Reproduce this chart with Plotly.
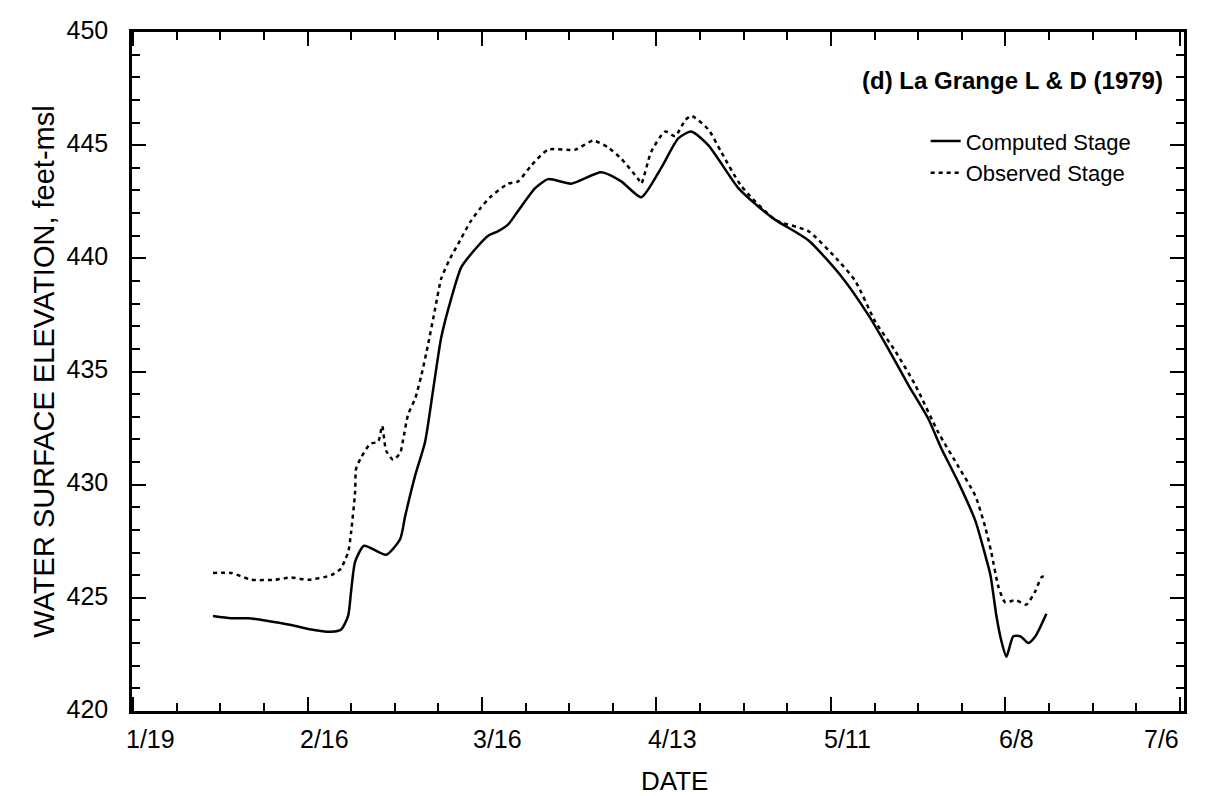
"""La Grange L & D (1979): computed vs observed water surface elevation."""

import plotly.graph_objects as go

# Computed stage (solid line)
computed_dates = [
    "1979-01-31 20:00", "1979-02-03 18:00", "1979-02-06 11:00", "1979-02-09 04:30",
    "1979-02-13 09:00", "1979-02-16 14:00", "1979-02-19 19:00", "1979-02-21 09:30",
    "1979-02-22 12:30", "1979-02-23 00:00", "1979-02-23 15:30", "1979-02-25 02:00",
    "1979-02-28 15:00", "1979-03-02 21:00", "1979-03-03 16:00", "1979-03-05 06:30",
    "1979-03-06 21:00", "1979-03-08 04:00", "1979-03-09 11:00", "1979-03-11 01:00",
    "1979-03-12 16:00", "1979-03-14 21:30", "1979-03-17 00:00", "1979-03-18 14:30",
    "1979-03-20 05:00", "1979-03-21 19:30", "1979-03-24 13:00", "1979-03-26 15:00",
    "1979-03-30 08:00", "1979-04-04 03:30", "1979-04-07 08:30", "1979-04-10 13:30",
    "1979-04-13 18:30", "1979-04-16 12:00", "1979-04-18 14:00", "1979-04-21 07:30",
    "1979-04-26 03:30", "1979-04-28 21:00", "1979-05-02 02:00", "1979-05-07 09:00",
    "1979-05-12 16:30", "1979-05-17 00:00", "1979-05-20 05:00", "1979-05-23 10:30",
    "1979-05-26 15:30", "1979-05-28 17:30", "1979-05-31 11:00", "1979-06-03 04:30",
    "1979-06-04 11:00", "1979-06-05 14:30", "1979-06-06 13:30", "1979-06-07 08:30",
    "1979-06-08 04:00", "1979-06-09 06:30", "1979-06-10 10:00", "1979-06-11 16:30",
    "1979-06-12 19:30", "1979-06-14 14:00",
]
computed_stage = [
    424.2, 424.1, 424.1, 424.0,
    423.8, 423.6, 423.5, 423.6,
    424.2, 425.3, 426.6, 427.3,
    426.9, 427.6, 428.6, 430.4,
    431.9, 434.2, 436.5, 438.2,
    439.6, 440.4, 441.0, 441.2,
    441.5, 442.1, 443.1, 443.5,
    443.3, 443.8, 443.4, 442.7,
    444.0, 445.3, 445.6, 445.0,
    443.1, 442.4, 441.7, 440.8,
    439.2, 437.5, 436.0, 434.4,
    432.9, 431.6, 430.1, 428.4,
    427.2, 426.0, 424.2, 423.1,
    422.4, 423.3, 423.3, 423.0,
    423.3, 424.3,
]

# Observed stage (dotted line)
observed_dates = [
    "1979-01-31 20:00", "1979-02-03 18:00", "1979-02-06 23:00", "1979-02-10 19:00",
    "1979-02-13 09:00", "1979-02-16 02:00", "1979-02-19 19:00", "1979-02-21 09:30",
    "1979-02-22 01:00", "1979-02-22 12:30", "1979-02-23 00:00", "1979-02-23 15:30",
    "1979-02-23 19:00", "1979-02-24 14:30", "1979-02-26 01:00", "1979-02-27 08:00",
    "1979-02-27 23:30", "1979-02-28 15:00", "1979-03-01 18:00", "1979-03-02 21:00",
    "1979-03-03 08:30", "1979-03-04 03:30", "1979-03-05 06:30", "1979-03-06 06:00",
    "1979-03-07 08:30", "1979-03-08 12:00", "1979-03-09 11:00", "1979-03-10 21:30",
    "1979-03-12 12:00", "1979-03-14 02:30", "1979-03-15 17:00", "1979-03-17 07:30",
    "1979-03-20 05:00", "1979-03-21 19:30", "1979-03-23 21:30", "1979-03-26 15:00",
    "1979-03-30 23:00", "1979-04-02 20:30", "1979-04-05 06:00", "1979-04-07 08:30",
    "1979-04-10 02:00", "1979-04-10 13:30", "1979-04-12 03:30", "1979-04-14 09:30",
    "1979-04-16 00:00", "1979-04-17 14:30", "1979-04-18 14:00", "1979-04-21 07:30",
    "1979-04-23 09:30", "1979-04-26 14:30", "1979-05-02 02:00", "1979-05-07 09:00",
    "1979-05-12 04:30", "1979-05-14 22:00", "1979-05-18 03:00", "1979-05-21 08:00",
    "1979-05-24 13:00", "1979-05-28 06:00", "1979-05-31 11:00", "1979-06-03 04:30",
    "1979-06-04 19:00", "1979-06-05 18:00", "1979-06-06 21:00", "1979-06-07 23:30",
    "1979-06-09 14:30", "1979-06-11 08:30", "1979-06-12 19:30", "1979-06-13 18:30",
    "1979-06-14 14:00",
]
observed_stage = [
    426.1, 426.1, 425.8, 425.8,
    425.9, 425.8, 426.0, 426.3,
    426.7, 427.0, 427.9, 429.7,
    430.7, 431.2, 431.8, 431.9,
    432.6, 431.5, 431.1, 431.4,
    432.0, 433.1, 433.8, 434.8,
    436.2, 437.8, 439.1, 440.0,
    440.8, 441.6, 442.2, 442.7,
    443.3, 443.4, 444.1, 444.8,
    444.8, 445.2, 444.9, 444.4,
    443.5, 443.3, 444.7, 445.6,
    445.4, 446.1, 446.3, 445.7,
    444.7, 443.2, 441.7, 441.2,
    439.9, 439.0, 437.2, 435.9,
    434.4, 432.3, 430.8, 429.5,
    428.1, 427.0, 425.5, 424.8,
    424.9, 424.7, 425.3, 425.9,
    426.0,
]

# x tick labels (every 28 days), drawn as text so each can sit where the original put it
tick_dates = ["1979-01-19", "1979-02-16", "1979-03-16", "1979-04-13",
              "1979-05-11", "1979-06-08", "1979-07-06"]
tick_labels = ["1/19", "2/16", "3/16", "4/13", "5/11", "6/8", "7/6"]
label_nudge_px = [17, 17, 16, 16, 17, 11, -18]

DAY_MS = 86400000
FONT = "Liberation Sans, Arial, sans-serif"

fig = go.Figure()
fig.add_trace(
    go.Scatter(
        x=computed_dates,
        y=computed_stage,
        name="Computed Stage",
        mode="lines",
        line={"color": "black", "width": 2.5, "shape": "spline", "smoothing": 0.6},
    )
)
fig.add_trace(
    go.Scatter(
        x=observed_dates,
        y=observed_stage,
        name="Observed Stage",
        mode="lines",
        line={"color": "black", "width": 2.5, "dash": "4px,4px", "shape": "spline", "smoothing": 0.6},
    )
)

axis_common = {
    "showline": True,
    "linecolor": "black",
    "linewidth": 2.5,
    "mirror": "allticks",
    "ticks": "inside",
    "ticklen": 14,
    "tickwidth": 2,
    "tickcolor": "black",
    "showgrid": False,
    "zeroline": False,
    "tickfont": {"family": FONT, "size": 25, "color": "black"},
}

fig.update_xaxes(
    **axis_common,
    type="date",
    range=["1979-01-18 20:00", "1979-07-06 16:00"],
    tick0="1979-01-19",
    dtick=28 * DAY_MS,
    showticklabels=False,
    minor={"ticks": "inside", "ticklen": 8, "tickwidth": 2, "tickcolor": "black",
           "dtick": 7 * DAY_MS, "tick0": "1979-01-19", "showgrid": False},
)
fig.update_yaxes(
    **axis_common,
    range=[420, 450],
    dtick=5,
    ticklabelshift=-2,
    ticklabelstandoff=16,
    minor={"ticks": "inside", "ticklen": 8, "tickwidth": 2, "tickcolor": "black",
           "dtick": 1, "showgrid": False},
    title={"text": "WATER SURFACE ELEVATION, feet-msl",
           "font": {"family": FONT, "size": 29, "color": "black"}, "standoff": 4},
)

for date, label, nudge in zip(tick_dates, tick_labels, label_nudge_px):
    fig.add_annotation(
        text=label, x=date, xref="x", y=0, yref="paper",
        xanchor="center", yanchor="top", xshift=nudge, yshift=-12,
        showarrow=False, font={"family": FONT, "size": 25, "color": "black"},
    )

fig.add_annotation(
    text="DATE", x=0.516, xref="paper", y=0, yref="paper",
    xanchor="center", yanchor="middle", yshift=-70,
    showarrow=False, font={"family": FONT, "size": 26, "color": "black"},
)
fig.add_annotation(
    text="<b>(d) La Grange L & D (1979)</b>",
    xref="paper", yref="paper", x=0.982, y=0.928,
    xanchor="right", yanchor="middle", showarrow=False,
    font={"family": FONT, "size": 24, "color": "black"},
)

fig.update_layout(
    width=1216,
    height=796,
    paper_bgcolor="white",
    plot_bgcolor="white",
    margin={"l": 124, "r": 40, "t": 24, "b": 93, "autoexpand": False},
    font={"family": FONT, "color": "black"},
    showlegend=True,
    legend={
        "x": 0.955, "y": 0.87, "xanchor": "right", "yanchor": "top",
        "bgcolor": "rgba(0,0,0,0)",
        "font": {"family": FONT, "size": 22, "color": "black"},
        "tracegroupgap": 0,
    },
)

fig.write_html("out.html")
